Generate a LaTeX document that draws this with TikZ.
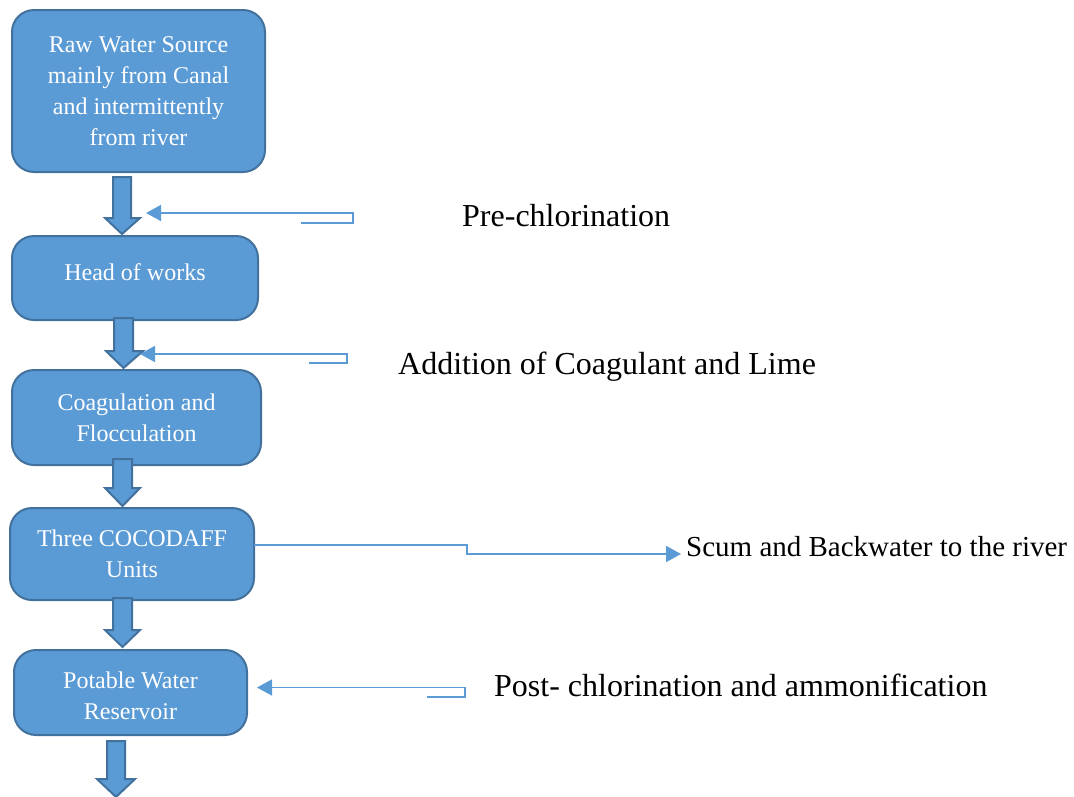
\documentclass[tikz,border=0pt]{standalone}
\usepackage{fontspec}
\setmainfont{Liberation Serif}
\usetikzlibrary{arrows.meta}
\definecolor{boxfill}{HTML}{5B9BD5}
\definecolor{boxline}{HTML}{41719C}
\tikzset{
  stagebox/.style={draw=boxline, line width=2pt, fill=boxfill, rounded corners=22pt,
    text=white, align=center, inner sep=0pt,
    font=\fontsize{24}{31}\selectfont},
  flowarrow/.style={draw=boxline, line width=2pt, fill=boxfill, line join=miter},
  feedline/.style={draw=boxfill, line width=1.6pt, -{Triangle[length=15pt,width=16pt]}},
  sidelabel/.style={anchor=base west, inner sep=0pt, font=\fontsize{32}{38}\selectfont},
}
% downward block arrow: shaft x1..x2 from ytop, head hx1..hx2 from yhead to ytip
\newcommand{\downblock}[7]{%
  \draw[flowarrow] (#1,#3) -- (#2,#3) -- (#2,#4) -- (#6,#4) -- ({(#1+#2)/2},#7)
    -- (#5,#4) -- (#1,#4) -- cycle;}
\begin{document}
\begin{tikzpicture}[x=1pt,y=-1pt]
\useasboundingbox (0,0) rectangle (1074,796);

% process stages
\node[stagebox, minimum width=253pt, minimum height=162pt] (src) at (138.5,91)
  {Raw Water Source\\mainly from Canal\\and intermittently\\from river};
\node[stagebox, minimum width=246pt, minimum height=84pt] (how) at (135,278)
  {\raisebox{12pt}{Head of works}};
\node[stagebox, minimum width=249pt, minimum height=95pt] (coag) at (136.5,417.5)
  {Coagulation and\\Flocculation};
\node[stagebox, minimum width=244pt, minimum height=92pt] (daff) at (132,554)
  {Three COCODAFF\\Units};
\node[stagebox, minimum width=233pt, minimum height=85pt] (res) at (130.5,692.5)
  {\rule{0pt}{23pt}Potable Water\\Reservoir};

% flow between stages
\downblock{113}{131}{177}{218}{105}{140}{234}
\downblock{114}{133}{318}{351}{106}{143}{368}
\downblock{113}{132}{459}{488}{105}{140}{506}
\downblock{113}{132}{598}{630}{105}{140}{647}
\downblock{107}{125}{741}{779}{97}{135}{797}

% dosing and discharge lines
\coordinate (pre) at (301,223);
\coordinate (preTip) at (146,213);
\draw[feedline] (pre) -- (353,223) -- (353,213) -- (preTip);

\coordinate (cl) at (309,363);
\coordinate (clTip) at (140,354);
\draw[feedline] (cl) -- (347,363) -- (347,354) -- (clTip);

\coordinate (scumStart) at (254,545);
\coordinate (scumTip) at (681,554);
\draw[feedline] (scumStart) -- (467,545) -- (467,554) -- (scumTip);

\coordinate (post) at (427,697);
\coordinate (postTip) at (257,687.5);
\draw[feedline] (post) -- (465,697) -- (465,687.5) -- (postTip);

% labels
\node[sidelabel] (lpre) at (462,226) {Pre-chlorination};
\node[sidelabel] (lcoag) at (398,374) {Addition of Coagulant and Lime};
\node[sidelabel, font=\fontsize{29}{35}\selectfont] (lscum) at (686,556) {Scum and Backwater to the river};
\node[sidelabel] (lpost) at (494,696) {Post- chlorination and ammonification};
\end{tikzpicture}
\end{document}
